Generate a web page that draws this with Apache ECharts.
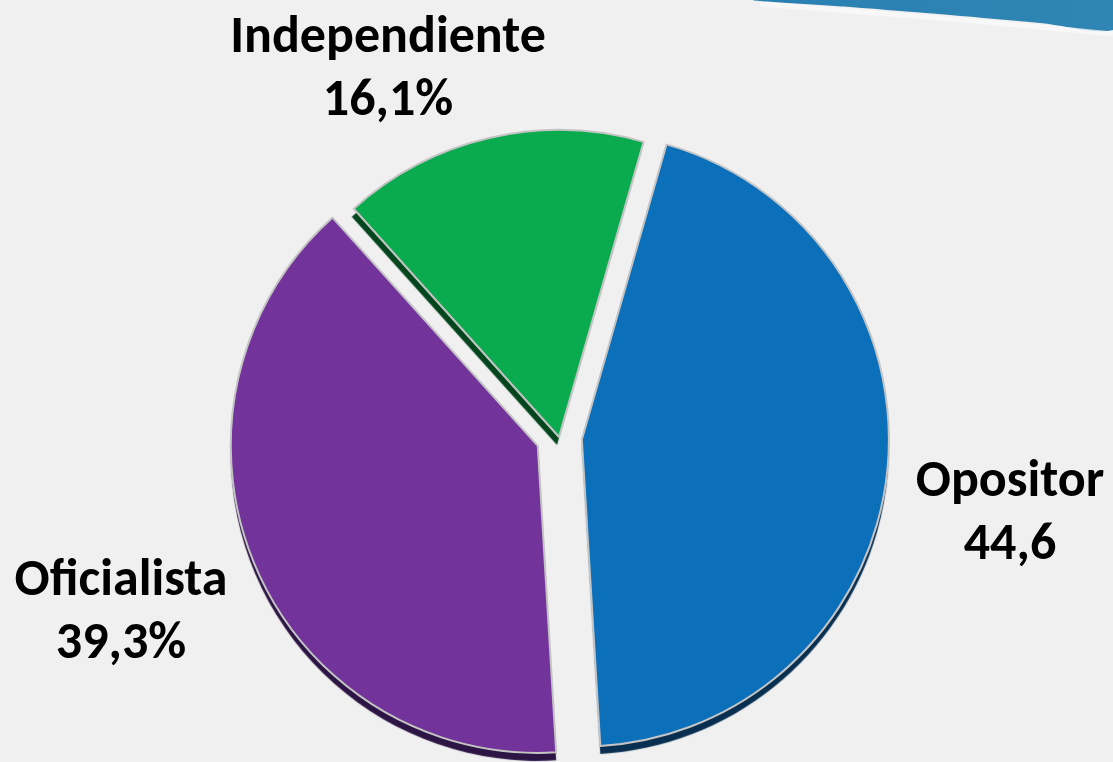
<!DOCTYPE html>
<html>
<head>
<meta charset="utf-8">
<title>Pie</title>
<script src="https://cdn.jsdelivr.net/npm/echarts@6/dist/echarts.min.js"></script>
<style>
  html, body { margin: 0; padding: 0; background: #f0f0f0; }
  #main { width: 1113px; height: 762px; }
</style>
</head>
<body>
<div id="main"></div>
<script>
// datos
var categories = ['Opositor', 'Oficialista', 'Independiente']
var values = [44.6, 39.3, 16.1]
var valueLabels = ['44,6', '39,3%', '16,1%']   // tal como aparecen en la lámina
var colors = ['#0b6fba', '#72349a', '#0aab4f']
var depthColors = ['#082f50', '#2c1444', '#03461d']
var exploded = [true, true, false]

// donde va cada etiqueta (centro del bloque de dos líneas)
var labelPos = [[1010, 514], [121, 613], [388, 70]]

var chart = echarts.init(document.getElementById('main'))

var PIE_CENTER = [559, 437]
var PIE_R = 307
var START = 74

// base común de las tres series de torta
function pieBase () {
  return {
    type: 'pie',
    center: PIE_CENTER,
    radius: PIE_R,
    startAngle: START,
    clockwise: true,
    selectedOffset: 23,
    avoidLabelOverlap: false,
    emphasis: { disabled: true },
    labelLine: { show: false }
  }
}

// sectores rellenos (con "profundidad" por sombra)
var fillData = categories.map(function (name, i) {
  return {
    name: name,
    value: values[i],
    selected: exploded[i],
    itemStyle: {
      color: colors[i],
      shadowColor: depthColors[i],
      shadowBlur: 1,
      shadowOffsetX: exploded[i] ? 0 : -2,
      shadowOffsetY: 8
    }
  }
})

// contorno gris, aparte para que la sombra no lo ensucie
var edgeData = categories.map(function (name, i) {
  return { name: name, value: values[i], selected: exploded[i] }
})

// misma data, sectores invisibles, solo para las etiquetas
// (con los sectores seleccionados el labelLayout se desplaza)
var labelData = categories.map(function (name, i) {
  return { name: name, value: values[i] }
})

var fillSeries = Object.assign(pieBase(), {
  selectedMode: 'multiple',
  itemStyle: { borderWidth: 0 },
  select: { itemStyle: { borderWidth: 0 } },
  label: { show: false },
  data: fillData
})

var edgeSeries = Object.assign(pieBase(), {
  silent: true,
  selectedMode: 'multiple',
  itemStyle: { color: 'rgba(0,0,0,0)', borderColor: '#c4c4c4', borderWidth: 2 },
  select: { itemStyle: { color: 'rgba(0,0,0,0)', borderColor: '#c4c4c4', borderWidth: 2 } },
  label: { show: false },
  data: edgeData
})

var labelSeries = Object.assign(pieBase(), {
  silent: true,
  selectedMode: false,
  itemStyle: { color: 'rgba(0,0,0,0)', borderWidth: 0 },
  label: {
    show: true,
    formatter: function (p) { return p.name + '\n' + valueLabels[p.dataIndex] },
    fontFamily: 'Carlito, "Liberation Sans Narrow", "Open Sans", sans-serif',
    fontWeight: 'bold',
    fontSize: 52,
    lineHeight: 63,
    color: '#000',
    align: 'center'
  },
  labelLayout: function (p) {
    return {
      x: labelPos[p.dataIndex][0],
      y: labelPos[p.dataIndex][1],
      align: 'center',
      verticalAlign: 'middle',
      hideOverlap: false
    }
  },
  data: labelData
})

var option = {
  backgroundColor: '#f0f0f0',
  animation: false,
  graphic: [
    {
      type: 'polygon',
      silent: true,
      shape: { points: [[755, 0], [850, 7], [950, 15], [1040, 23], [1113, 30], [1113, 0]], smooth: 0.3 },
      style: {
        fill: new echarts.graphic.LinearGradient(0, 0, 1, 0, [
          { offset: 0, color: '#2a80b2' },
          { offset: 1, color: '#2f86b4' }
        ])
      }
    },
    {
      type: 'polyline',
      silent: true,
      shape: { points: [[760, 4], [850, 11], [950, 19], [1040, 27], [1113, 34]], smooth: 0.3 },
      style: { stroke: '#fbfbfb', lineWidth: 5, opacity: 0.7, fill: null }
    }
  ],
  series: [fillSeries, edgeSeries, labelSeries]
}

chart.setOption(option)
</script>
</body>
</html>
